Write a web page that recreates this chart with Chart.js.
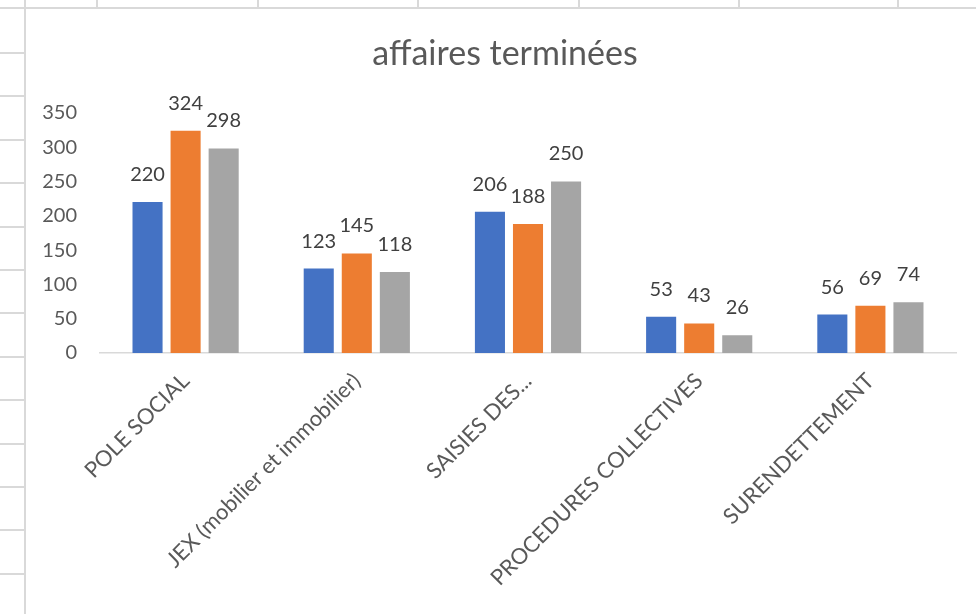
<!DOCTYPE html>
<html lang="fr">
<head>
<meta charset="utf-8">
<title>affaires terminées</title>
<script src="https://cdn.jsdelivr.net/npm/chart.js@4.4.1/dist/chart.umd.min.js"></script>
<style>
  html, body { margin: 0; padding: 0; background: #ffffff; }
  #wrap { position: relative; width: 976px; height: 614px; overflow: hidden; background: #ffffff; }
  .gl { position: absolute; background: #d9d9d9; }
  canvas { position: absolute; left: 0; top: 0; }
</style>
</head>
<body>
<div id="wrap">
  <canvas id="chart" width="976" height="614"></canvas>
</div>
<script>
// ---- data ----
const categories = [
  "POLE SOCIAL",
  "JEX (mobilier et immobilier)",
  "SAISIES DES...",
  "PROCEDURES COLLECTIVES",
  "SURENDETTEMENT"
];
const series1 = [220, 123, 206, 53, 56];
const series2 = [324, 145, 188, 43, 69];
const series3 = [298, 118, 250, 26, 74];
const seriesNames = ["Série 1", "Série 2", "Série 3"];
const yTicks = [0, 50, 100, 150, 200, 250, 300, 350];
const chartTitle = "affaires terminées";

// ---- spreadsheet cell lines around the chart (decoration) ----
(function () {
  const wrap = document.getElementById('wrap');
  function line(l, t, w, h) {
    const d = document.createElement('div');
    d.className = 'gl';
    d.style.left = l + 'px'; d.style.top = t + 'px';
    d.style.width = w + 'px'; d.style.height = h + 'px';
    wrap.insertBefore(d, wrap.firstChild);
  }
  line(0, 7, 976, 2);          // row border above chart
  line(24, 0, 2, 614);         // column border left of chart
  [96, 257, 417, 578, 738, 897].forEach(x => line(x, 0, 2, 8));
  for (let k = 0; k < 13; k++) line(0, Math.round(52 + 43.4 * k), 24, 2);
})();

// ---- value labels above bars ----
const valueLabels = {
  id: 'valueLabels',
  afterDatasetsDraw(chart) {
    const ctx = chart.ctx;
    ctx.save();
    ctx.font = '20px Lato';
    ctx.fillStyle = '#404040';
    ctx.textAlign = 'center';
    ctx.textBaseline = 'alphabetic';
    chart.data.datasets.forEach((ds, i) => {
      chart.getDatasetMeta(i).data.forEach((bar, j) => {
        ctx.fillText(String(ds.data[j]), bar.x, bar.y - 21);
      });
    });
    ctx.restore();
  }
};

// centre the title over the white chart frame rather than over the canvas
const titleShift = {
  id: 'titleShift',
  afterLayout(chart) {
    if (chart.titleBlock) chart.titleBlock.left = 54;
  }
};

function draw() {
  const colors = ['#4472C4', '#ED7D31', '#A5A5A5'];
  const data = [series1, series2, series3];
  new Chart(document.getElementById('chart'), {
    type: 'bar',
    data: {
      labels: categories,
      datasets: data.map((d, i) => ({
        label: seriesNames[i],
        data: d,
        backgroundColor: colors[i],
        borderWidth: 0,
        categoryPercentage: 0.667,
        barPercentage: 0.79
      }))
    },
    options: {
      responsive: false,
      animation: false,
      devicePixelRatio: 1,
      layout: { padding: { left: 0, right: 20, top: 10, bottom: 0 } },
      plugins: {
        legend: { display: false },
        tooltip: { enabled: false },
        title: {
          display: true,
          text: chartTitle,
          color: '#595959',
          font: { family: 'Lato', size: 34, weight: 'normal' },
          padding: { top: 24, bottom: 38 }
        }
      },
      scales: {
        x: {
          grid: { display: false, drawTicks: false },
          border: { display: true, color: '#d9d9d9', width: 1.5 },
          ticks: {
            color: '#595959',
            font: { family: 'Lato', size: 22 },
            minRotation: 45,
            maxRotation: 45,
            autoSkip: false,
            padding: 15
          },
          afterFit(s) { s.height = 261; }
        },
        y: {
          min: 0,
          max: 350,
          grid: { display: false, drawTicks: false },
          border: { display: false },
          afterBuildTicks(s) { s.ticks = yTicks.map(v => ({ value: v })); },
          ticks: {
            color: '#595959',
            font: { family: 'Lato', size: 20 },
            padding: 23
          },
          afterFit(s) { s.width = 100; }
        }
      }
    },
    plugins: [valueLabels, titleShift]
  });
}

Promise.all([
  document.fonts.load('20px Lato'),
  document.fonts.load('34px Lato')
]).then(draw, draw);
</script>
</body>
</html>
